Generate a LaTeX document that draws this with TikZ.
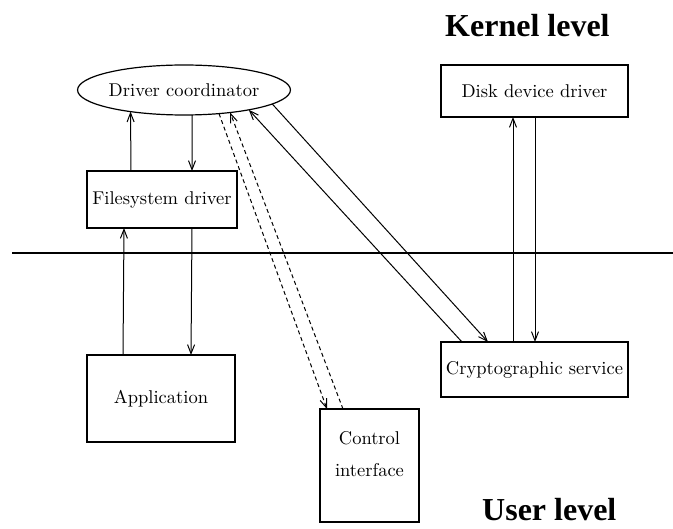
\documentclass[tikz,border=0pt]{standalone}
\usepackage{fontspec}
\newfontfamily\timesfont{Liberation Serif}
\newfontfamily\lmten{lmroman10-regular}[Extension=.otf]
\usetikzlibrary{arrows.meta,shapes.geometric}
\begin{document}
\begin{tikzpicture}[x=1pt,y=-1pt,
  box/.style={draw,line width=1.2pt,inner sep=0pt,outer sep=0pt,font=\lmten\fontsize{18.5}{22}\selectfont},
  oval/.style={draw,ellipse,line width=1.2pt,inner sep=0pt,outer sep=0pt,minimum width=192pt,minimum height=50pt,font=\lmten\fontsize{18.5}{22}\selectfont},
  lbl/.style={inner sep=0pt,font=\lmten\fontsize{18.5}{32}\selectfont,align=center},
  title/.style={inner sep=0pt,font=\timesfont\fontsize{32}{36}\selectfont\bfseries,anchor=base west},
  arr/.style={line width=1pt,-{Straight Barb[length=9pt,width=7pt]}},
  darr/.style={arr,dash pattern=on 4pt off 3pt}]
\useasboundingbox (0,0) rectangle (673,529);

\node[oval] (dc) at (184,90) {Driver coordinator};
\node[box,minimum width=150pt,minimum height=57pt] (fs) at (162,199.5) {Filesystem driver};
\node[box,minimum width=148pt,minimum height=87pt] (app) at (161,398.5) {Application};
\node[box,minimum width=187pt,minimum height=52pt] (dd) at (534.5,91) {Disk device driver};
\node[box,minimum width=187pt,minimum height=55pt] (cs) at (534.5,369.5) {Cryptographic service};
\node[box,minimum width=99pt,minimum height=113pt] (ci) at (369.5,465.5) {};
\node[lbl,anchor=north] (citext) at ([yshift=-22pt]ci.north) {Control\\interface};

\node[title] (kl) at (445,37) {Kernel level};
\node[title] (ul) at (482,521) {User level};

\coordinate (la) at (12,253);
\coordinate (lb) at (673,253);
\draw[line width=1.2pt] (la) -- (lb);

% filesystem <-> coordinator
\draw[arr] ([xshift=-31pt]fs.north) -- (dc.-158.6);
\draw[arr] (dc.-72.2) -- ([xshift=30pt]fs.north);
% application <-> filesystem
\draw[arr] ([xshift=-38pt]app.north) -- ([xshift=-38pt]fs.south);
\draw[arr] ([xshift=30pt]fs.south) -- ([xshift=30pt]app.north);
% crypto <-> disk
\draw[arr] ([xshift=-21.5pt]cs.north) -- ([xshift=-21.5pt]dd.south);
\draw[arr] ([xshift=0.5pt]dd.south) -- ([xshift=0.5pt]cs.north);
% coordinator <-> crypto
\draw[arr] ([xshift=-72.5pt]cs.north) -- (dc.-17.6);
\draw[arr] (dc.-9.4) -- ([xshift=-46.5pt]cs.north);
% coordinator <-> control (dashed)
\draw[darr] (dc.-34.5) -- ([xshift=-42.5pt]ci.north);
\draw[darr] ([xshift=-26.5pt]ci.north) -- (dc.-26.8);
\end{tikzpicture}
\end{document}
